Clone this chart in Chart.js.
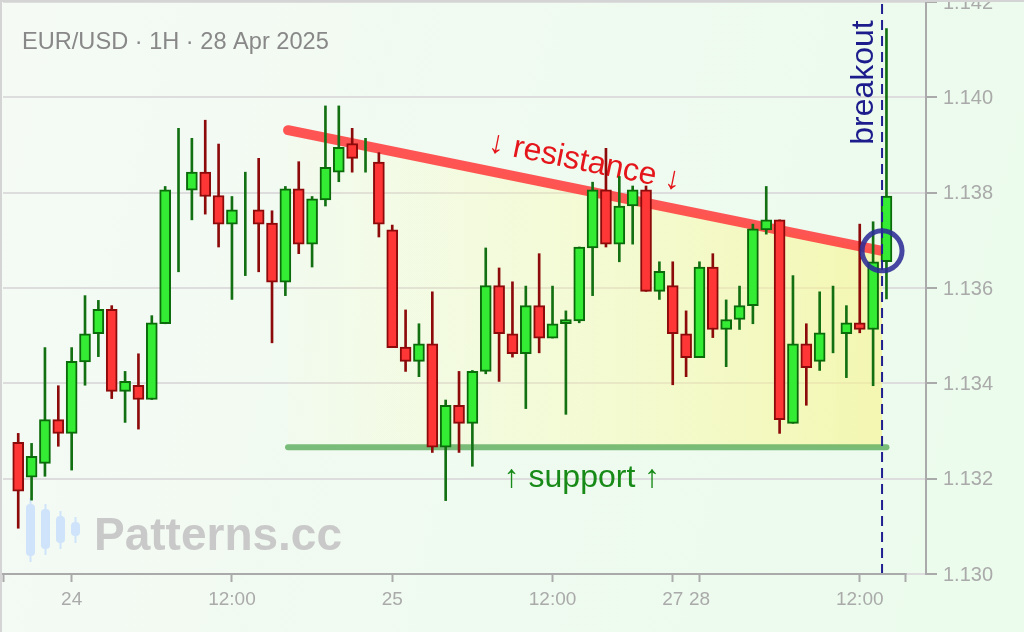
<!DOCTYPE html>
<html>
<head>
<meta charset="utf-8">
<script src="https://cdn.jsdelivr.net/npm/chart.js@4.4.1/dist/chart.umd.min.js"></script>
<style>
  html, body { margin: 0; padding: 0; background: #f3faf3; }
  #wrap { width: 1024px; height: 632px; position: relative; overflow: hidden; }
  canvas { display: block; }
</style>
</head>
<body>
<div id="wrap"><canvas id="chart" width="1024" height="632"></canvas></div>
<script>
// ---- data (hourly candles, trading-hour index) ----
const candleHours = [0,1,2,3,4,5,6,7,8,9,10,11,12,13,14,15,16,17,18,19,20,21,22,23,24,25,26,27,28,29,30,31,32,33,34,35,36,37,38,39,40,41,42,43,44,45,46,47,48,49,50,51,52,53,54,55,56,57,58,59,60,61,62,63,64,65];
const openPrices = [1.13276,1.13203,1.13232,1.13324,1.13295,1.13445,1.13504,1.13555,1.13383,1.13396,1.13366,1.13525,1.13780,1.13805,1.13843,1.13794,1.13734,1.13750,1.13764,1.13736,1.13612,1.13808,1.13692,1.13785,1.13843,1.13903,1.13880,1.13864,1.13722,1.13476,1.13446,1.13483,1.13266,1.13354,1.13316,1.13425,1.13605,1.13504,1.13462,1.13563,1.13495,1.13525,1.13531,1.13684,1.13806,1.13692,1.13772,1.13806,1.13593,1.13605,1.13504,1.13454,1.13644,1.13513,1.13534,1.13563,1.13722,1.13743,1.13316,1.13483,1.13446,1.13530,1.13504,1.13527,1.13513,1.13655];
const highPrices = [1.13295,1.13274,1.13475,1.13395,1.13475,1.13584,1.13574,1.13563,1.13425,1.13462,1.13542,1.13813,1.13935,1.13914,1.13952,1.13902,1.13792,1.13843,1.13872,1.13762,1.13813,1.13865,1.13792,1.13982,1.13982,1.13935,1.13914,1.13884,1.13732,1.13554,1.13525,1.13592,1.13365,1.13425,1.13427,1.13684,1.13642,1.13613,1.13604,1.13672,1.13604,1.13552,1.13686,1.13822,1.13893,1.13834,1.13814,1.13814,1.13655,1.13655,1.13552,1.13655,1.13672,1.13575,1.13604,1.13734,1.13813,1.13743,1.13626,1.13525,1.13592,1.13604,1.13563,1.13734,1.13739,1.14144];
const lowPrices = [1.13096,1.13155,1.13205,1.13268,1.13218,1.13396,1.13456,1.13368,1.13318,1.13304,1.13366,1.13525,1.13634,1.13743,1.13755,1.13686,1.13576,1.13626,1.13634,1.13485,1.13584,1.13672,1.13644,1.13772,1.13823,1.13843,1.13843,1.13707,1.13475,1.13425,1.13414,1.13255,1.13154,1.13255,1.13226,1.13420,1.13404,1.13455,1.13347,1.13464,1.13495,1.13335,1.13527,1.13584,1.13686,1.13655,1.13692,1.13593,1.13576,1.13397,1.13414,1.13454,1.13496,1.13435,1.13513,1.13525,1.13713,1.13295,1.13316,1.13354,1.13427,1.13464,1.13412,1.13506,1.13395,1.13577];
const closePrices = [1.13174,1.13247,1.13324,1.13295,1.13446,1.13504,1.13555,1.13383,1.13404,1.13366,1.13527,1.13806,1.13780,1.13843,1.13792,1.13734,1.13764,1.13750,1.13734,1.13612,1.13808,1.13692,1.13787,1.13853,1.13895,1.13872,1.13880,1.13734,1.13475,1.13446,1.13483,1.13266,1.13354,1.13316,1.13425,1.13605,1.13504,1.13462,1.13563,1.13495,1.13525,1.13534,1.13686,1.13806,1.13692,1.13772,1.13806,1.13593,1.13635,1.13504,1.13454,1.13644,1.13513,1.13534,1.13563,1.13724,1.13743,1.13324,1.13483,1.13433,1.13506,1.13530,1.13527,1.13513,1.13655,1.13793];

// ---- axes ----
const xRange = [-1.14, 67.96];
const xTickHours = [-1.14, 4, 16, 28, 40, 49, 51, 63, 66.44];
const xTickLabels = ['', '24', '12:00', '25', '12:00', '27', '28', '12:00', ''];
const yRange = [1.130, 1.142];
const yTickValues = [1.130, 1.132, 1.134, 1.136, 1.138, 1.140, 1.142];
const yTickLabels = ['1.130', '1.132', '1.134', '1.136', '1.138', '1.140', '1.142'];

// ---- pattern annotations ----
const resistanceHours = [20.2, 64.67];
const resistancePrices = [1.13931, 1.13678];
const supportHours = [20.2, 65.0];
const supportPrices = [1.13266, 1.13266];
const breakoutHours = [64.67];
const breakoutPrices = [1.13678];

const titleText = 'EUR/USD · 1H · 28 Apr 2025';
const resistanceText = '↓ resistance ↓';
const supportText = '↑ support ↑';
const breakoutText = 'breakout';
const watermarkText = 'Patterns.cc';

const FONT = "'Liberation Sans', Arial, Helvetica, sans-serif";
Chart.defaults.font.family = FONT;

const isUp = k => closePrices[k] >= openPrices[k];

const bgPlugin = {
  id: 'bg',
  beforeDraw(chart) {
    const ctx = chart.ctx;
    ctx.save();
    const g = ctx.createLinearGradient(0, 0, chart.width, chart.height * 0.4);
    g.addColorStop(0, '#f5faf5');
    g.addColorStop(1, '#ebfbec');
    ctx.fillStyle = g;
    ctx.fillRect(0, 0, chart.width, chart.height);
    ctx.restore();
  }
};

const underPlugin = {
  id: 'under',
  beforeDatasetsDraw(chart) {
    const ctx = chart.ctx;
    const xs = chart.scales.x, ys = chart.scales.y;
    const area = chart.chartArea;
    const x0 = xs.getPixelForValue(resistanceHours[0]);
    const x1 = xs.getPixelForValue(breakoutHours[0]);
    const rAt = h => resistancePrices[0] + (resistancePrices[1] - resistancePrices[0]) * (h - resistanceHours[0]) / (resistanceHours[1] - resistanceHours[0]);
    const ySup = ys.getPixelForValue(supportPrices[0]);
    ctx.save();
    ctx.beginPath();
    ctx.rect(area.left, area.top, area.right - area.left, area.bottom - area.top);
    ctx.clip();
    const g = ctx.createLinearGradient(x0, 0, x1, 0);
    g.addColorStop(0, 'rgba(255,255,170,0.05)');
    g.addColorStop(0.5, 'rgba(252,250,160,0.35)');
    g.addColorStop(1, 'rgba(248,244,140,0.62)');
    ctx.fillStyle = g;
    ctx.beginPath();
    ctx.moveTo(x0, ys.getPixelForValue(rAt(resistanceHours[0])));
    ctx.lineTo(x1, ys.getPixelForValue(rAt(breakoutHours[0])));
    ctx.lineTo(x1, ySup);
    ctx.lineTo(x0, ySup);
    ctx.closePath();
    ctx.fill();
    ctx.restore();

    // title
    ctx.save();
    ctx.fillStyle = '#888888';
    ctx.font = '23.6px ' + FONT;
    ctx.textAlign = 'left';
    ctx.textBaseline = 'alphabetic';
    ctx.fillText(titleText, 22, area.top + 47);
    ctx.restore();

    // watermark
    ctx.save();
    ctx.fillStyle = '#cfe4fa';
    const icon = [[26, 9, 504, 52, 498, 562], [41, 9, 509, 40, 504, 555], [56, 9, 516, 27, 511, 549], [71, 9, 522, 14, 517, 543]];
    icon.forEach(([x, w, y, h, wy0, wy1]) => {
      ctx.fillRect(x + w / 2 - 1, wy0, 2, wy1 - wy0);
      ctx.beginPath();
      if (ctx.roundRect) ctx.roundRect(x, y, w, h, 4); else ctx.rect(x, y, w, h);
      ctx.fill();
    });
    ctx.fillStyle = '#c9c9c9';
    ctx.font = 'bold 46px ' + FONT;
    ctx.textAlign = 'left';
    ctx.textBaseline = 'alphabetic';
    ctx.fillText(watermarkText, 94, 550);
    ctx.restore();

    // resistance label along the line
    const p0x = xs.getPixelForValue(resistanceHours[0]), p0y = ys.getPixelForValue(resistancePrices[0]);
    const p1x = xs.getPixelForValue(resistanceHours[1]), p1y = ys.getPixelForValue(resistancePrices[1]);
    const ang = Math.atan2(p1y - p0y, p1x - p0x);
    const midH = 42.0;
    const mx = xs.getPixelForValue(midH), my = ys.getPixelForValue(rAt(midH));
    ctx.save();
    ctx.translate(mx, my);
    ctx.rotate(ang);
    ctx.fillStyle = '#e5161b';
    ctx.font = '32px ' + FONT;
    ctx.textAlign = 'center';
    ctx.textBaseline = 'alphabetic';
    ctx.fillText(resistanceText, 0, -19);
    ctx.restore();

    // support label
    ctx.save();
    ctx.fillStyle = '#178a17';
    ctx.font = '32px ' + FONT;
    ctx.textAlign = 'center';
    ctx.textBaseline = 'alphabetic';
    ctx.fillText(supportText, xs.getPixelForValue(42.2), ySup + 40);
    ctx.restore();
  }
};

const overPlugin = {
  id: 'over',
  afterDraw(chart) {
    const ctx = chart.ctx;
    const xs = chart.scales.x, ys = chart.scales.y;
    const area = chart.chartArea;
    ctx.save();
    ctx.strokeStyle = '#aaaaaa';
    ctx.lineWidth = 2;
    ctx.beginPath();
    ctx.moveTo(area.left - 1, area.bottom);
    ctx.lineTo(xs.getPixelForValue(xTickHours[xTickHours.length - 1]) + 1, area.bottom);
    ctx.stroke();
    ctx.fillStyle = '#aaaaaa';
    ctx.font = '20px ' + FONT;
    ctx.textAlign = 'left';
    ctx.textBaseline = 'middle';
    yTickValues.forEach((v, k) => {
      ctx.fillText(yTickLabels[k], area.right + 17, ys.getPixelForValue(v) + 1);
    });
    const bx = xs.getPixelForValue(breakoutHours[0]);
    ctx.translate(bx - 9.5, area.top + 80.5);
    ctx.rotate(-Math.PI / 2);
    ctx.fillStyle = '#1c1c8c';
    ctx.font = '32px ' + FONT;
    ctx.textAlign = 'center';
    ctx.textBaseline = 'alphabetic';
    ctx.fillText(breakoutText, 0, 0);
    ctx.restore();
    ctx.save();
    ctx.strokeStyle = '#d4d4d4';
    ctx.lineWidth = 2;
    ctx.beginPath();
    ctx.moveTo(0, 1); ctx.lineTo(chart.width, 1);
    ctx.moveTo(1, 0); ctx.lineTo(1, chart.height);
    ctx.stroke();
    ctx.restore();
  }
};

new Chart(document.getElementById('chart'), {
  type: 'bar',
  data: {
    datasets: [
      {
        type: 'bar', label: 'body', order: 0,
        data: candleHours.map((h, k) => ({ x: h, y: [openPrices[k], closePrices[k]] })),
        backgroundColor: c => isUp(c.dataIndex) ? '#33ec33' : '#ff3636',
        borderColor: c => isUp(c.dataIndex) ? '#0b6b0b' : '#8c0a0a',
        borderWidth: 2, borderSkipped: false, barThickness: 11, grouped: false
      },
      {
        type: 'bar', label: 'wick', order: 1,
        data: candleHours.map((h, k) => ({ x: h, y: [lowPrices[k], highPrices[k]] })),
        backgroundColor: c => isUp(c.dataIndex) ? '#127012' : '#8c0a0a',
        borderWidth: 0, barThickness: 2, grouped: false
      },
      {
        type: 'line', label: 'resistance', order: 2,
        data: resistanceHours.map((h, k) => ({ x: h, y: resistancePrices[k] })),
        borderColor: 'rgba(255,62,62,0.88)', borderWidth: 10, borderCapStyle: 'round',
        pointRadius: 0, fill: false, tension: 0
      },
      {
        type: 'line', label: 'support', order: 2,
        data: supportHours.map((h, k) => ({ x: h, y: supportPrices[k] })),
        borderColor: 'rgba(100,176,100,0.85)', borderWidth: 6, borderCapStyle: 'round',
        pointRadius: 0, fill: false, tension: 0
      },
      {
        type: 'line', label: 'breakout line', order: -1,
        data: [{ x: breakoutHours[0], y: yRange[0] }, { x: breakoutHours[0], y: yRange[1] }],
        borderColor: '#1f1f90', borderWidth: 2, borderDash: [10, 6],
        pointRadius: 0, fill: false
      },
      {
        type: 'line', label: 'breakout point', order: -2, showLine: false,
        data: breakoutHours.map((h, k) => ({ x: h, y: breakoutPrices[k] })),
        pointRadius: 20, pointBorderWidth: 5, pointBorderColor: 'rgba(44,44,150,0.88)',
        pointBackgroundColor: 'rgba(0,0,0,0)', clip: false
      }
    ]
  },
  options: {
    responsive: false, animation: false, events: [],
    layout: { autoPadding: false, padding: { left: 3, top: 2, right: 0, bottom: 0 } },
    plugins: { legend: { display: false }, tooltip: { enabled: false } },
    scales: {
      x: {
        type: 'linear', position: 'bottom', min: xRange[0], max: xRange[1], offset: false,
        afterBuildTicks: s => { s.ticks = xTickHours.map(v => ({ value: v })); },
        afterFit: s => { s.height = 58; s.paddingLeft = 0; s.paddingRight = 0; },
        grid: { display: true, drawOnChartArea: false, drawTicks: true, tickLength: 8, tickWidth: 2, tickColor: '#aaaaaa', offset: false },
        border: { display: false },
        ticks: { autoSkip: false, maxRotation: 0, minRotation: 0, padding: 6, color: '#aaaaaa', font: { size: 19 },
                 callback: (v, i) => xTickLabels[i] }
      },
      y: {
        type: 'linear', position: 'right', min: yRange[0], max: yRange[1],
        afterBuildTicks: s => { s.ticks = yTickValues.map(v => ({ value: v })); },
        afterFit: s => { s.width = 98; },
        grid: { color: '#dddddd', lineWidth: 2, drawTicks: true, tickLength: 11, tickWidth: 2, tickColor: '#aaaaaa' },
        border: { display: true, color: '#aaaaaa', width: 2 },
        ticks: { display: false }
      }
    }
  },
  plugins: [bgPlugin, underPlugin, overPlugin]
});
</script>
</body>
</html>
